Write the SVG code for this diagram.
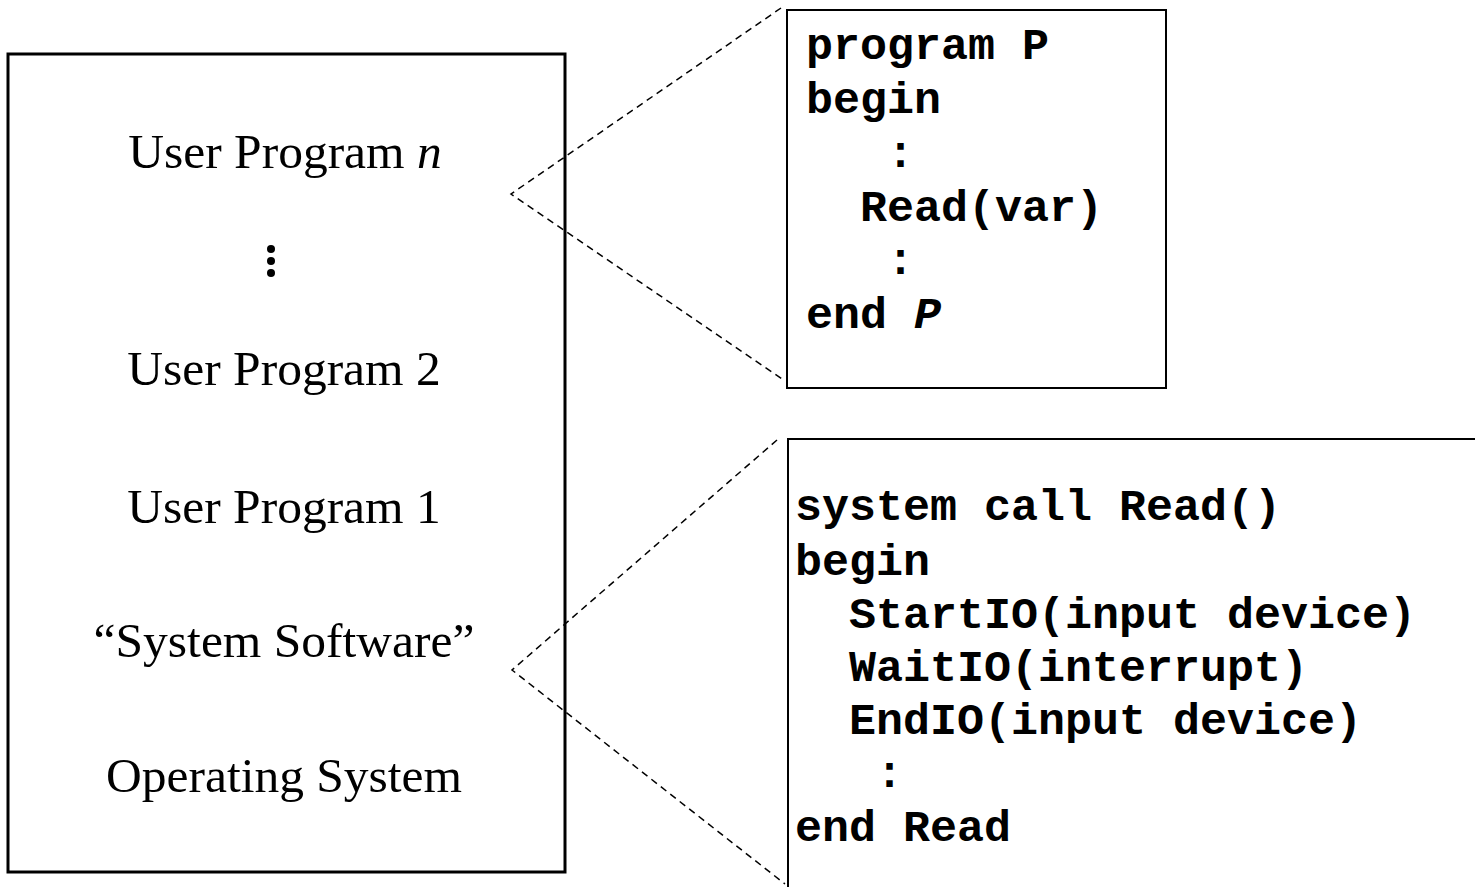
<svg xmlns="http://www.w3.org/2000/svg" width="1475" height="887" viewBox="0 0 1475 887">
  <style>
    .stack { fill: #fff; stroke: #000; stroke-width: 3; }
    .code-box { fill: #fff; stroke: #000; stroke-width: 2; }
    .layer { font-family: "Liberation Serif", "Times New Roman", serif; font-size: 49.5px; fill: #000; text-anchor: middle; }
    .code { font-family: "Liberation Mono", "Courier New", monospace; font-size: 45px; font-weight: bold; fill: #000; white-space: pre; }
    .zoom { fill: none; stroke: #000; stroke-width: 1.5; stroke-dasharray: 7 5; }
  </style>
  <rect width="1475" height="887" fill="#fff"/>

  <!-- software stack -->
  <g id="stack">
    <rect class="stack" x="8" y="54" width="557" height="818"/>
    <text class="layer" x="285" y="168">User Program <tspan font-style="italic">n</tspan></text>
    <g id="ellipsis" fill="#000">
      <circle cx="271" cy="249" r="4"/>
      <circle cx="271" cy="261" r="4"/>
      <circle cx="271" cy="273" r="4"/>
    </g>
    <text class="layer" x="284" y="385">User Program 2</text>
    <text class="layer" x="284" y="523">User Program 1</text>
    <text class="layer" x="284" y="657">“System Software”</text>
    <text class="layer" x="284" y="792">Operating System</text>
  </g>

  <!-- call-out lines -->
  <g id="connectors">
    <polyline class="zoom" points="781,8 511,194 785,381"/>
    <polyline class="zoom" points="777,440 512,670 785,884"/>
  </g>

  <!-- user program listing -->
  <g id="program-p">
    <rect class="code-box" x="787" y="10" width="379" height="378"/>
    <text class="code" x="806" y="59">program P</text>
    <text class="code" x="806" y="113">begin</text>
    <text class="code" x="806" y="167">   :</text>
    <text class="code" x="806" y="221">  Read(var)</text>
    <text class="code" x="806" y="274">   :</text>
    <text class="code" x="806" y="328">end <tspan font-style="italic">P</tspan></text>
  </g>

  <!-- system call listing -->
  <g id="system-call-read">
    <path class="code-box" fill="none" d="M1476,439 H788 V888"/>
    <text class="code" x="795" y="520">system call Read()</text>
    <text class="code" x="795" y="575">begin</text>
    <text class="code" x="795" y="628">  StartIO(input device)</text>
    <text class="code" x="795" y="681">  WaitIO(interrupt)</text>
    <text class="code" x="795" y="734">  EndIO(input device)</text>
    <text class="code" x="795" y="787">   :</text>
    <text class="code" x="795" y="841">end Read</text>
  </g>
</svg>
